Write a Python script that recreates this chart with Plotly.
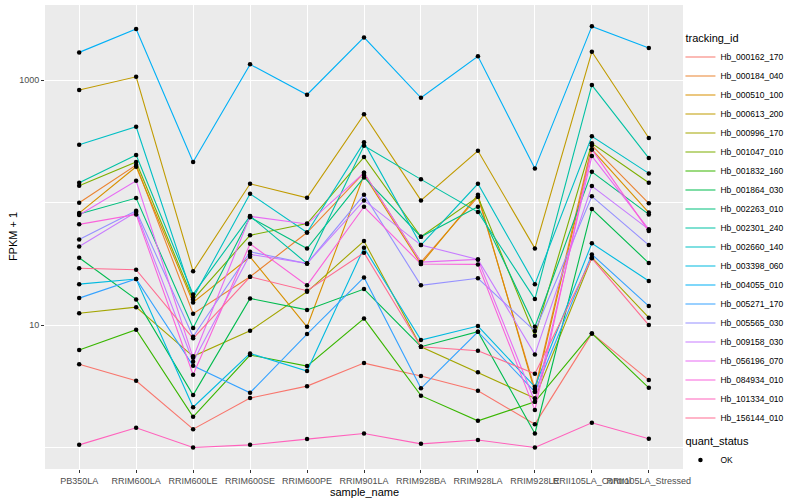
import plotly.graph_objects as go

samples = ["PB350LA", "RRIM600LA", "RRIM600LE", "RRIM600SE", "RRIM600PE",
           "RRIM901LA", "RRIM928BA", "RRIM928LA", "RRIM928LE",
           "RRII105LA_Control", "RRII105LA_Stressed"]

tracking_ids = ["Hb_000162_170", "Hb_000184_040", "Hb_000510_100", "Hb_000613_200",
                "Hb_000996_170", "Hb_001047_010", "Hb_001832_160", "Hb_001864_030",
                "Hb_002263_010", "Hb_002301_240", "Hb_002660_140", "Hb_003398_060",
                "Hb_004055_010", "Hb_005271_170", "Hb_005565_030", "Hb_009158_030",
                "Hb_056196_070", "Hb_084934_010", "Hb_101334_010", "Hb_156144_010"]

hue_colors = ["#F8766D", "#EA8331", "#D89000", "#C09B00", "#A3A500", "#7CAE00",
              "#39B600", "#00BB4E", "#00BF7D", "#00C1A3", "#00BFC4", "#00BAE0",
              "#00B0F6", "#35A2FF", "#9590FF", "#C77CFF", "#E76BF3", "#FA62DB",
              "#FF62BC", "#FF6C91"]

# FPKM + 1 per gene, in sample order
hb_000162_170 = [4.78, 3.51, 1.41, 2.53, 3.17, 4.89, 3.83, 2.91, 1.55, 8.55, 3.55]
hb_000184_040 = [99.8, 202.9, 12.4, 24.8, 57.0, 175.5, 32.7, 111.7, 3.00, 293.9, 98.7]
hb_000510_100 = [82.2, 196.5, 15.3, 36.1, 9.68, 168.1, 31.5, 116.0, 2.85, 272.5, 83.0]
hb_000613_200 = [831.6, 1068, 27.5, 142.7, 109.6, 526.5, 104.4, 265.5, 42.3, 1709, 337.1]
hb_000996_170 = [12.5, 14.0, 5.55, 8.98, 18.7, 48.6, 6.65, 4.11, 2.52, 35.7, 11.5]
hb_001047_010 = [137.4, 214.6, 16.2, 54.1, 67.5, 235.8, 52.7, 111.7, 8.18, 305.2, 145.4]
hb_001832_160 = [6.25, 9.16, 1.78, 5.69, 4.62, 11.3, 2.65, 1.65, 2.36, 8.55, 3.07]
hb_001864_030 = [35.5, 16.2, 2.68, 16.5, 13.3, 19.7, 6.65, 8.82, 1.30, 88.7, 32.1]
hb_002263_010 = [80.7, 109.0, 9.45, 75.9, 42.2, 160.9, 52.7, 92.6, 9.68, 178.8, 80.2]
hb_002301_240 = [145.4, 244.8, 17.8, 77.7, 31.8, 291.6, 155.0, 83.8, 16.3, 913.8, 231.4]
hb_002660_140 = [297.2, 416.9, 16.7, 118.2, 57.0, 310.9, 45.0, 142.7, 21.6, 348.1, 173.5]
hb_003398_060 = [21.6, 23.8, 2.13, 5.87, 4.21, 42.8, 7.54, 9.81, 3.13, 46.5, 22.9]
hb_004055_010 = [1690, 2620, 214.6, 1349, 761.4, 2241, 719.5, 1568, 190.6, 2757, 1833]
hb_005271_170 = [16.6, 23.8, 4.65, 2.80, 8.44, 24.5, 3.04, 8.82, 2.85, 37.8, 14.3]
hb_005565_030 = [50.1, 85.9, 8.02, 39.7, 31.8, 116.0, 21.1, 24.1, 8.93, 112.6, 45.0]
hb_009158_030 = [43.8, 83.8, 5.01, 37.8, 31.9, 104.4, 45.0, 34.4, 5.76, 136.6, 60.5]
hb_056196_070 = [79.2, 151.0, 5.40, 77.3, 66.9, 175.5, 32.7, 34.4, 2.36, 240.3, 60.5]
hb_084934_010 = [66.5, 80.2, 3.93, 46.1, 21.1, 92.6, 31.5, 31.3, 2.02, 272.5, 58.6]
hb_101334_010 = [1.05, 1.45, 1.00, 1.05, 1.17, 1.30, 1.07, 1.15, 1.00, 1.59, 1.18]
hb_156144_010 = [29.1, 28.3, 7.79, 24.8, 19.1, 39.0, 6.65, 6.17, 4.00, 35.1, 10.0]

series = [hb_000162_170, hb_000184_040, hb_000510_100, hb_000613_200, hb_000996_170,
          hb_001047_010, hb_001832_160, hb_001864_030, hb_002263_010, hb_002301_240,
          hb_002660_140, hb_003398_060, hb_004055_010, hb_005271_170, hb_005565_030,
          hb_009158_030, hb_056196_070, hb_084934_010, hb_101334_010, hb_156144_010]

FONT = "Liberation Sans"
fig = go.Figure()

for name, col, vals in zip(tracking_ids, hue_colors, series):
    fig.add_trace(go.Scatter(
        x=samples, y=vals, mode="lines", name=name,
        line=dict(color=col, width=1.1),
        legendgroup="tracking", legendgrouptitle=dict(text="tracking_id",
                                                      font=dict(size=11, color="black", family=FONT)),
    ))

all_x = [s for vals in series for s in samples]
all_y = [v for vals in series for v in vals]
fig.add_trace(go.Scatter(
    x=all_x, y=all_y, mode="markers", name="OK",
    marker=dict(color="black", size=4.5),
    legendgroup="quant", legendgrouptitle=dict(text="quant_status",
                                               font=dict(size=11, color="black", family=FONT)),
))

fig.update_layout(
    width=800, height=500,
    margin=dict(l=45, r=117, t=5, b=31, autoexpand=False),
    paper_bgcolor="white", plot_bgcolor="#EBEBEB",
    font=dict(family=FONT, size=9, color="#4D4D4D"),
    legend=dict(x=0.996, xanchor="left", y=0.96, yanchor="top",
                font=dict(size=8.5, color="black", family=FONT),
                tracegroupgap=4, itemwidth=30, bgcolor="rgba(0,0,0,0)"),
    showlegend=True,
    annotations=[
        dict(text="sample_name", xref="paper", yref="paper", x=0.5, y=-0.049,
             xanchor="center", yanchor="middle", showarrow=False,
             font=dict(size=11, color="black", family=FONT)),
        dict(text="FPKM + 1", xref="paper", yref="paper", x=-0.050, y=0.5,
             xanchor="center", yanchor="middle", textangle=-90, showarrow=False,
             font=dict(size=11, color="black", family=FONT)),
    ],
)

fig.update_xaxes(
    type="category", range=[-0.6, 10.6], tickangle=0, automargin=False,
    showgrid=True, gridcolor="white", gridwidth=1.1,
    ticks="outside", ticklen=3, tickcolor="#333333", tickwidth=1,
    tickfont=dict(size=9, color="#4D4D4D", family=FONT),
    zeroline=False, showline=False,
)
fig.update_yaxes(
    type="log", range=[-0.176, 3.615], automargin=False,
    tickvals=[10, 1000], ticktext=["10", "1000"],
    showgrid=True, gridcolor="white", gridwidth=1.1,
    minor=dict(tickvals=[1, 100, 10000], showgrid=True, gridcolor="white", gridwidth=0.5, ticks=""),
    ticks="outside", ticklen=3, tickcolor="#333333", tickwidth=1,
    tickfont=dict(size=9, color="#4D4D4D", family=FONT),
    zeroline=False, showline=False,
)

fig.write_html("out.html", config={"displayModeBar": False},
               post_script="document.body.style.margin='0';document.body.style.padding='0';")
